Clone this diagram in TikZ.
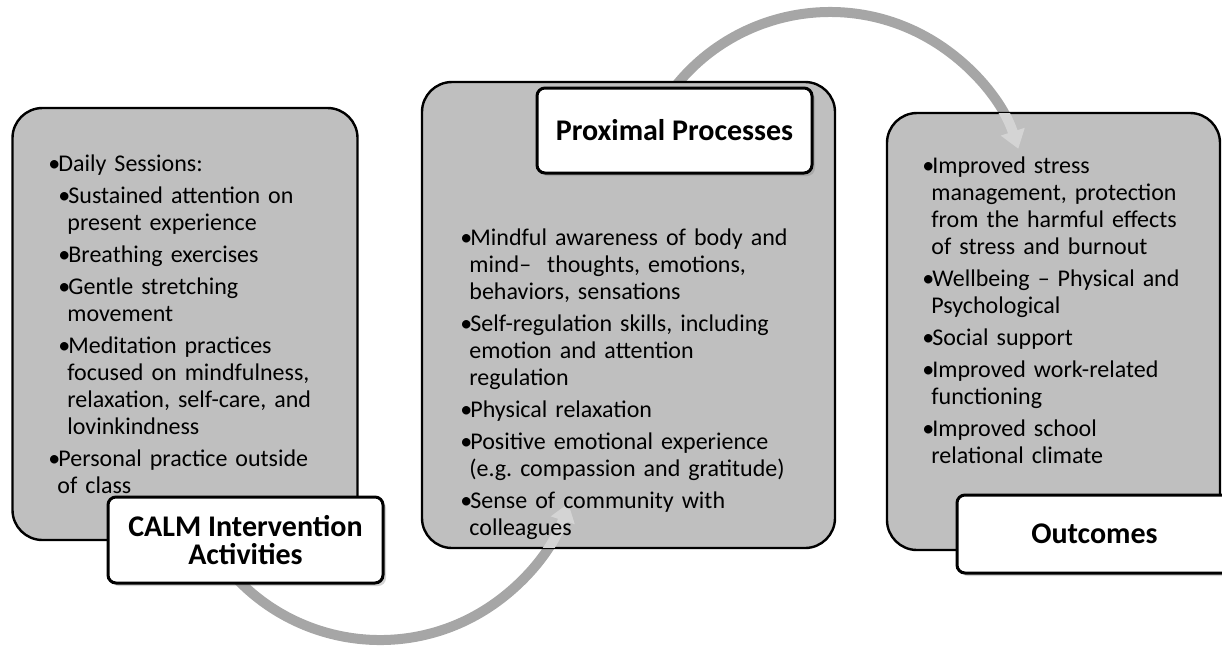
\documentclass[tikz,border=0pt]{standalone}
\usepackage{fontspec}
\setmainfont{Carlito}
\usetikzlibrary{arrows.meta,shadows,calc}

\definecolor{boxgray}{RGB}{191,191,191}
\definecolor{arcgray}{RGB}{166,166,166}
\definecolor{arclight}{RGB}{212,212,212}

\newcommand{\bitem}[1]{\par\hangindent=4.5pt\hangafter=1\noindent\makebox[5pt][l]{\textbullet}#1}
\newcommand{\bsub}[1]{\par\hangindent=9.5pt\hangafter=1\noindent\hspace*{5pt}\makebox[5pt][l]{\textbullet}#1}
\newcommand{\nl}{\newline}

\tikzset{
  bigbox/.style={draw,line width=1.2pt,fill=boxgray,rounded corners=15pt,inner sep=0pt},
  tag/.style={draw,line width=1.5pt,fill=white,rounded corners=4pt,align=center,
    minimum width=137.5pt,font=\fontsize{15}{14}\selectfont\bfseries,
    drop shadow={opacity=0.35,shadow xshift=1.5pt,shadow yshift=-1.5pt}},
  items/.style={anchor=base west,text width=165pt,inner sep=0pt,
    font=\fontsize{12}{13.5}\selectfont,execute at begin node=\setlength{\parskip}{2.5pt}},
  curve/.style={line width=5pt,-{Triangle[width=12pt,length=9pt]}}
}

\begin{document}
\begin{tikzpicture}[x=0.5pt,y=-0.5pt]
\useasboundingbox (0,0) rectangle (1222,645);
\clip (0,0) rectangle (1222,645);

\coordinate (c1) at (380,442);
\coordinate (c2) at (830,210);
\coordinate (calmtail) at ($(c1)+(212:99pt)$);
\coordinate (proxtail) at ($(c2)+(150:99pt)$);

\draw[curve,arcgray] (calmtail) arc[start angle=212,end angle=342,radius=99pt];
\draw[curve,arcgray] (proxtail) arc[start angle=150,end angle=18,radius=99pt];

\node[bigbox,minimum width=172.5pt,minimum height=216pt] (act) at (185,324) {};
\node[bigbox,minimum width=206.5pt,minimum height=233pt] (proc) at (628.5,315) {};
\node[bigbox,minimum width=166.5pt,minimum height=218.5pt] (out) at (1053.5,331.5) {};

% arrow heads show lighter where they run over a box
\begin{scope}
  \clip[rounded corners=14pt] ([shift={(0.7pt,0.7pt)}]proc.south west) rectangle ([shift={(-0.7pt,-0.7pt)}]proc.north east);
  \draw[curve,arclight] (calmtail) arc[start angle=212,end angle=342,radius=99pt];
\end{scope}
\begin{scope}
  \clip[rounded corners=14pt] ([shift={(0.7pt,0.7pt)}]out.south west) rectangle ([shift={(-0.7pt,-0.7pt)}]out.north east);
  \draw[curve,arclight] (proxtail) arc[start angle=150,end angle=18,radius=99pt];
\end{scope}

\node[items] (acttext) at (48,139) {%
  \bitem{Daily Sessions:}
  \bsub{Sustained attention on\nl present experience}
  \bsub{Breathing exercises}
  \bsub{Gentle stretching\nl movement}
  \bsub{Meditation practices\nl focused on mindfulness,\nl relaxation, self-care, and\nl lovinkindness}
  \bitem{Personal practice outside\nl of class}\par};

\node[items] (proctext) at (460,213) {%
  \bitem{Mindful awareness of body and\nl mind–\ \ thoughts, emotions,\nl behaviors, sensations}
  \bitem{Self-regulation skills, including\nl emotion and attention\nl regulation}
  \bitem{Physical relaxation}
  \bitem{Positive emotional experience\nl (e.g.\ compassion and gratitude)}
  \bitem{Sense of community with\nl colleagues}\par};

\node[items] (outtext) at (922,141) {%
  \bitem{Improved stress\nl management, protection\nl from the harmful effects\nl of stress and burnout}
  \bitem{Wellbeing – Physical and\nl Psychological}
  \bitem{Social support}
  \bitem{Improved work-related\nl functioning}
  \bitem{Improved school\nl relational climate}\par};

\node[tag,minimum height=43pt] (calm) at (245.5,540) {CALM Intervention\\Activities};
\node[tag,minimum height=42.5pt] (prox) at (674.5,130.5) {Proximal Processes};
\node[tag,minimum height=39pt] (outc) at (1094.5,534) {Outcomes};
\end{tikzpicture}
\end{document}
